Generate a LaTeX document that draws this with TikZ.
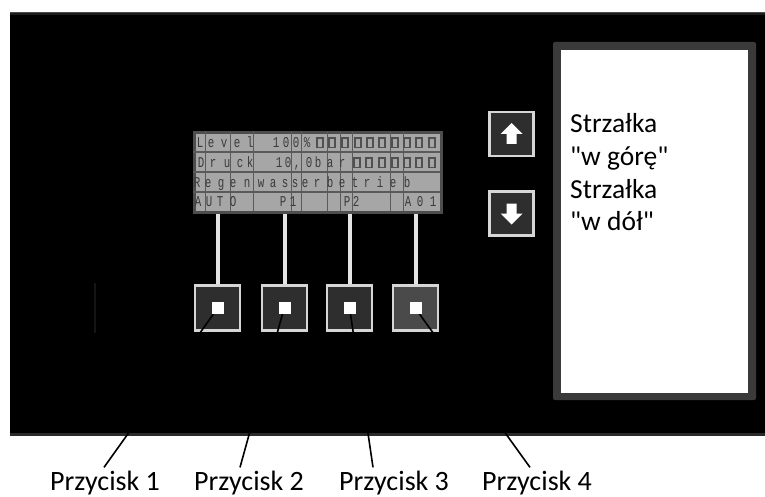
\documentclass[tikz,border=0pt]{standalone}
\usepackage{fontspec}
\setmainfont{Carlito}[Ligatures=TeXOff]
\newfontfamily\lcdfont[FakeStretch=0.72]{Liberation Mono}
\definecolor{panelrim}{HTML}{4A4A4A}
\definecolor{panelrimb}{HTML}{1C1C1C}
\definecolor{panelbot}{HTML}{2A2A2A}
\definecolor{frame}{HTML}{3A3A3A}
\definecolor{lcdbg}{HTML}{A6A6A6}
\definecolor{lcdborder}{HTML}{4D4D4D}
\definecolor{lcdgrid}{HTML}{5A5A5A}
\definecolor{lcdtext}{HTML}{3A3A3A}
\definecolor{lcdboxc}{HTML}{505050}
\definecolor{btnedge}{HTML}{D6D6D6}
\definecolor{btnfill}{HTML}{2E2E2E}
\definecolor{btnfillb}{HTML}{4A4A4A}
\definecolor{wire}{HTML}{E4E4E4}
\definecolor{faint}{HTML}{151515}
\begin{document}
\begin{tikzpicture}[x=1pt,y=-1pt,
  lcdch/.style={font=\lcdfont\fontsize{15}{15}\selectfont, text=lcdtext, inner sep=0pt, text height=10pt, text depth=0pt, anchor=center},
  lcdbox/.style={draw=lcdboxc, line width=1.1pt},
  gridh/.style={draw=lcdgrid, line width=2pt},
  gridv/.style={draw=lcdgrid, line width=1pt},
  btn/.style={draw=btnedge, line width=2.5pt, fill=btnfill, minimum size=45pt, inner sep=0pt},
  dot/.style={fill=white, minimum size=12pt, inner sep=0pt},
  wline/.style={draw=wire, line width=4pt},
  leader/.style={draw=black, line width=1.6pt},
  lab/.style={font=\fontsize{28}{28}\selectfont, inner sep=0pt, anchor=base},
  info/.style={font=\fontsize{27.5}{27.5}\selectfont, inner sep=0pt, anchor=base west},
  arrbtn/.style={draw=btnedge, line width=2.5pt, fill=btnfill, minimum size=44pt, inner sep=0pt}
]
\useasboundingbox (0,0) rectangle (765,497);
\fill[white] (0,0) rectangle (765,497);
% panel
\fill[black] (10,12) rectangle (765,436);
\fill[panelrimb] (10,12) rectangle (765,15);
\fill[panelrim] (10,12) rectangle (765,13.5);
\fill[panelbot] (10,433) rectangle (765,436);
% info box
\fill[frame, rounded corners=2pt] (553,42) rectangle (756,400);
\fill[white] (561,50) rectangle (748,393);
\node[info] (s1) at (570,133) {Strzałka};
\node[info] (s2) at (570,165.5) {"w górę"};
\node[info] (s3) at (570,198) {Strzałka};
\node[info] (s4) at (570,230.5) {"w dół"};
% arrow buttons
\node[arrbtn] (up) at (511.5,134) {};
\node[arrbtn] (down) at (511.5,213.5) {};
\fill[white, shift={(up.center)}] (0,-11) -- (11,0) -- (5,0) -- (5,10) -- (-5,10) -- (-5,0) -- (-11,0) -- cycle;
\fill[white, shift={(down.center)}, yscale=-1] (0,-11) -- (11,0) -- (5,0) -- (5,10) -- (-5,10) -- (-5,0) -- (-11,0) -- cycle;
% LCD
\node[draw=lcdborder, line width=3pt, fill=lcdbg, minimum width=247pt, minimum height=79pt, inner sep=0pt, anchor=north west] (lcd) at (192.5,131.5) {};
\foreach \y in {152,172.5,192.5} \draw[gridh] (192.5,\y) -- (439.5,\y);
\foreach \x in {205,230,253,291,301,327,340,352,390,403} \draw[gridv] (\x,131.5) -- (\x,210.5);
% row 1
\foreach \x/\c in {200/L,211/e,224/v,237/e,250/l,276/1,286/0,296/0,307/\%}
  \node[lcdch] at (\x,142.5) {\c};
\foreach \x in {320,332,345,358,370,382,395,407,419,432}
  \draw[lcdbox] (\x-3,138) rectangle (\x+3,147.5);
% row 2
\foreach \x/\c in {201/D,213/r,227/u,240/c,250/k,279/1,288/0,297/{,},309/0,318/b,330/a,342/r}
  \node[lcdch] at (\x,162.5) {\c};
\foreach \x in {357,369,382,395,407,419,432}
  \draw[lcdbox] (\x-3,158) rectangle (\x+3,167.5);
% row 3
\foreach \x/\c in {197/R,208/e,221/g,233/e,247/n,261/w,273/a,285/s,295/s,305/e,317/r,330/b,342/e,355/t,367/r,380/i,393/e,407/b}
  \node[lcdch] at (\x,183) {\c};
% row 4
\foreach \x/\c in {198/A,209/U,220/T,233/O,283/P,293/1,347/P,356/2,408/A,420/0,433/1}
  \node[lcdch] at (\x,201.5) {\c};
% faint line
\draw[draw=faint, line width=2pt] (95,283) -- (95,333);
% buttons
\node[btn] (b1) at (217.5,308) {};
\node[btn] (b2) at (284.5,308) {};
\node[btn] (b3) at (349.5,308) {};
\node[btn, fill=btnfillb] (b4) at (415.5,308) {};
\foreach \i in {1,...,4} \draw[wline] (b\i.north) -- (b\i.north |- lcd.south);
% labels
\node[lab] (lab1) at (105,490) {Przycisk 1};
\node[lab] (lab2) at (249,490) {Przycisk 2};
\node[lab] (lab3) at (394,490) {Przycisk 3};
\node[lab] (lab4) at (537,490) {Przycisk 4};
% leader lines
\draw[leader] (b1.center) ++(-4,6) coordinate (l1) -- ([xshift=-1pt,yshift=3pt]lab1.north);
\draw[leader] (b2.center) ++(-2,6) coordinate (l2) -- ([xshift=-9pt,yshift=3pt]lab2.north);
\draw[leader] (b3.center) ++(1,6) coordinate (l3) -- ([xshift=-21pt,yshift=3pt]lab3.north);
\draw[leader] (b4.center) ++(4,6) coordinate (l4) -- ([xshift=-7pt,yshift=3pt]lab4.north);
% inner squares
\node[dot] (in1) at (b1.center) {};
\node[dot] (in2) at (b2.center) {};
\node[dot] (in3) at (b3.center) {};
\node[dot] (in4) at (b4.center) {};
\end{tikzpicture}
\end{document}
